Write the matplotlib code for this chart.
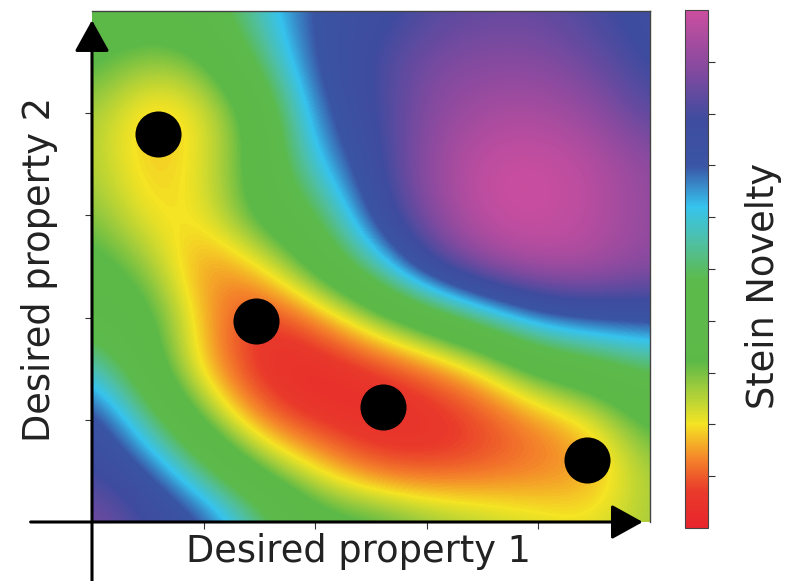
import numpy as np
import matplotlib.pyplot as plt
from matplotlib.colors import LinearSegmentedColormap

# Stein novelty on an 11 x 11 grid
# rows: property 2 from 1.0 (top) down to 0.0, columns: property 1 from 0.0 to 1.0
novelty = np.array([
    [0.38, 0.38, 0.42, 0.58, 0.72, 0.76, 0.81, 0.84, 0.84, 0.80, 0.76],
    [0.34, 0.27, 0.30, 0.50, 0.72, 0.79, 0.87, 0.89, 0.89, 0.85, 0.77],
    [0.27, 0.16, 0.20, 0.36, 0.68, 0.78, 0.89, 0.94, 0.95, 0.91, 0.82],
    [0.26, 0.17, 0.21, 0.36, 0.61, 0.76, 0.91, 0.99, 1.00, 0.97, 0.90],
    [0.30, 0.19, 0.20, 0.36, 0.46, 0.73, 0.89, 0.99, 1.00, 0.97, 0.90],
    [0.36, 0.28, 0.12, 0.18, 0.36, 0.55, 0.79, 0.91, 0.96, 0.95, 0.90],
    [0.42, 0.36, 0.16, 0.05, 0.12, 0.26, 0.40, 0.55, 0.68, 0.72, 0.73],
    [0.60, 0.38, 0.17, 0.04, 0.02, 0.05, 0.10, 0.19, 0.35, 0.42, 0.50],
    [0.76, 0.54, 0.30, 0.12, 0.05, 0.03, 0.04, 0.07, 0.13, 0.20, 0.35],
    [0.80, 0.72, 0.52, 0.32, 0.20, 0.10, 0.08, 0.10, 0.12, 0.14, 0.27],
    [0.88, 0.80, 0.73, 0.55, 0.38, 0.36, 0.30, 0.26, 0.23, 0.21, 0.27],
])

# selected candidates
prop1 = [0.118, 0.294, 0.522, 0.887]
prop2 = [0.760, 0.393, 0.225, 0.121]

# colour scale of the bar, red (low) to magenta (high)
cmap_pos = [0.0, 0.07, 0.135, 0.20, 0.26, 0.32, 0.48, 0.555, 0.62, 0.70, 0.79, 0.88, 1.0]
cmap_cols = ['#e8252c', '#e93a2b', '#f5892a', '#f4e424', '#a9cf3a', '#5db947',
             '#5cba4c', '#4fc0a6', '#36c3ee', '#3a55a5', '#3f4c9f', '#7f4a9f', '#cc4e9f']
stein = LinearSegmentedColormap.from_list('stein', list(zip(cmap_pos, cmap_cols)))

fig = plt.figure(figsize=(7.88, 5.81), dpi=100)
ax = fig.add_axes([92/788, 59/581, 558/788, 511/581])
cax = fig.add_axes([685/788, 53/581, 23/788, 518/581])

half = 0.5 / (novelty.shape[1] - 1)
im = ax.imshow(novelty, cmap=stein, vmin=0, vmax=1, origin='upper',
               extent=[-half, 1 + half, -half, 1 + half],
               interpolation='bicubic', aspect='auto')
ax.set_xlim(0, 1)
ax.set_ylim(0, 1)

ax.scatter(prop1, prop2, s=1100, color='black', zorder=3, linewidths=0)

# axes look
ax.set_xticks([0.2, 0.4, 0.6, 0.8])
ax.set_yticks([0.2, 0.4, 0.6, 0.8])
ax.set_xticklabels([])
ax.set_yticklabels([])
ax.tick_params(length=5, width=0.8, color='#333333', direction='out')
for side in ['left', 'bottom']:
    ax.spines[side].set_visible(False)
for side in ['top', 'right']:
    ax.spines[side].set_linewidth(1.0)
    ax.spines[side].set_color('#444444')

# axis arrows
arrow = dict(arrowstyle='-|>,head_length=0.65,head_width=0.36', mutation_scale=30,
             lw=2.2, color='black', shrinkA=0, shrinkB=0)
ax.annotate('', xy=(0.987, 0), xytext=(-0.11, 0), xycoords='axes fraction',
            arrowprops=arrow, annotation_clip=False)
ax.annotate('', xy=(0, 0.982), xytext=(0, -0.13), xycoords='axes fraction',
            arrowprops=arrow, annotation_clip=False)

cbar = fig.colorbar(im, cax=cax, ticks=[0.1, 0.2, 0.3, 0.4, 0.5, 0.6, 0.7, 0.8, 0.9])
cbar.ax.set_yticklabels([])
cbar.ax.tick_params(length=5, width=0.8, color='#333333')
cbar.outline.set_linewidth(0.8)
cbar.outline.set_edgecolor('#444444')

fig.text(358/788, 1 - 552/581, 'Desired property 1', fontsize=26.5,
         ha='center', va='center', color='#222222')
fig.text(40/788, 1 - 270/581, 'Desired property 2', fontsize=26.5,
         ha='center', va='center', rotation=90, color='#222222')
fig.text(763/788, 1 - 286/581, 'Stein Novelty', fontsize=26.5,
         ha='center', va='center', rotation=90, color='#222222')

fig.savefig('out.png', dpi=100)
